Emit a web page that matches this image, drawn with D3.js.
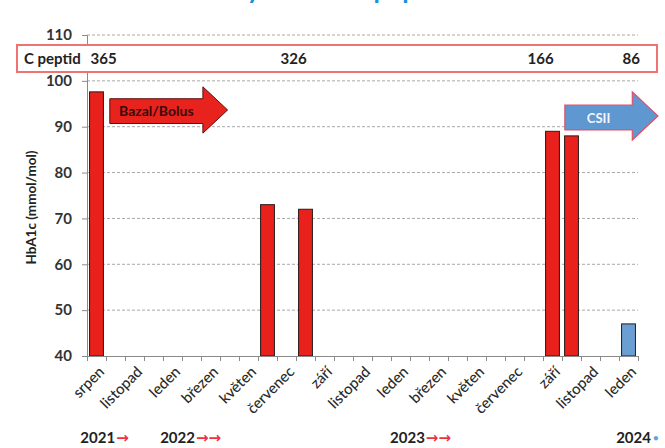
<!DOCTYPE html>
<html>
<head>
<meta charset="utf-8">
<script src="https://cdn.jsdelivr.net/npm/d3@7"></script>
<style>
  html, body { margin: 0; padding: 0; background: #ffffff; }
  svg { display: block; font-family: Lato, "Open Sans", sans-serif; }
</style>
</head>
<body>
<svg id="chart" width="665" height="448"></svg>
<script>
// Monthly visits, Aug 2021 – Jan 2024 (every second month is labelled)
const monthLabels = [
  "srpen", "", "listopad", "", "leden", "", "březen", "", "květen", "",
  "červenec", "", "září", "", "listopad", "", "leden", "", "březen", "",
  "květen", "", "červenec", "", "září", "", "listopad", "", "leden"
];
// HbA1c (mmol/mol) measured at the visit index
const hba1cIndex = [0, 9, 11, 24, 25, 28];
const hba1cValues = [97.6, 73, 72, 89, 88, 47];
// therapy: Bazal/Bolus vs. insulin pump (CSII)
const hba1cTherapy = ["bb", "bb", "bb", "bb", "bb", "csii"];
// C-peptide measurements shown in the strip above the plot
const cPeptidIndex = [0, 10, 23, 28];
const cPeptidValues = [365, 326, 166, 86];
const yTicks = [40, 50, 60, 70, 80, 90, 100, 110];
const years = ["2021", "2022", "2023", "2024"];
const yearMarks = ["→", "→→", "→→", "•"];
const yearPos = [-0.35, 3.85, 15.95, 27.85];

(function () {
const svg = d3.select("#chart");
const plotLeft = 87, plotRight = 638, plotTop = 35, plotBottom = 356;

const colors = { bb: "#e8211c", csii: "#6b9fd3" };

const idx = d3.range(monthLabels.length);
const x = d3.scaleBand().domain(idx).range([plotLeft, plotRight]).paddingInner(0.27).paddingOuter(0.135);
const xb = d3.scaleLinear().domain([0, monthLabels.length]).range([plotLeft, plotRight]);
const y = d3.scaleLinear().domain([40, 110]).range([plotBottom, plotTop]);

// title, mostly above the top edge
svg.append("text")
  .attr("x", 345).attr("y", -1)
  .attr("text-anchor", "middle")
  .attr("font-size", 26).attr("font-weight", 700)
  .attr("fill", "#1b8fd6")
  .text("Dynamika C peptidu");

// dashed gridlines
svg.append("g")
  .selectAll("line")
  .data(yTicks.filter(t => t > 40))
  .join("line")
  .attr("x1", plotLeft).attr("x2", plotRight)
  .attr("y1", d => y(d)).attr("y2", d => y(d))
  .attr("stroke", "#a8a8a8").attr("stroke-width", 1)
  .attr("stroke-dasharray", "3,2");

// y axis
const yAxis = svg.append("g")
  .attr("transform", `translate(${plotLeft},0)`)
  .call(d3.axisLeft(y).tickValues(yTicks).tickSize(5).tickPadding(10));
yAxis.select(".domain").attr("stroke", "#8a8a8a");
yAxis.selectAll(".tick line").attr("stroke", "#8a8a8a");
yAxis.selectAll(".tick text")
  .attr("font-family", "Lato, sans-serif")
  .attr("font-size", 15).attr("font-weight", 700).attr("fill", "#333");

// y axis title
svg.append("text")
  .attr("transform", `translate(36,${(plotTop + plotBottom) / 2 + 12}) rotate(-90)`)
  .attr("text-anchor", "middle")
  .attr("font-size", 13.5).attr("font-weight", 700).attr("fill", "#222")
  .text("HbA1c (mmol/mol)");

// bars
svg.append("g")
  .selectAll("rect")
  .data(hba1cValues.map((v, i) => ({ i: hba1cIndex[i], v, t: hba1cTherapy[i] })))
  .join("rect")
  .attr("x", d => x(d.i))
  .attr("width", x.bandwidth())
  .attr("y", d => y(d.v))
  .attr("height", d => y(40) - y(d.v))
  .attr("fill", d => colors[d.t])
  .attr("stroke", "#2a1a1a").attr("stroke-width", 1);

// x axis: tick marks between categories
const xTickAxis = svg.append("g")
  .attr("transform", `translate(0,${plotBottom})`)
  .call(d3.axisBottom(xb).tickValues(d3.range(monthLabels.length + 1)).tickSize(5).tickFormat(""));
xTickAxis.select(".domain").attr("stroke", "#8a8a8a");
xTickAxis.selectAll(".tick line").attr("stroke", "#8a8a8a");

// x axis: rotated month labels
const xLab = svg.append("g")
  .attr("transform", `translate(0,${plotBottom})`)
  .call(d3.axisBottom(x).tickValues(idx.filter(i => monthLabels[i] !== "")).tickSize(0).tickFormat(i => monthLabels[i]));
xLab.select(".domain").remove();
xLab.selectAll(".tick text")
  .attr("font-family", "Lato, sans-serif")
  .attr("font-size", 15).attr("font-weight", 500).attr("fill", "#2a2a2a")
  .attr("text-anchor", "end")
  .attr("x", 0).attr("y", 0).attr("dy", "0.35em")
  .attr("transform", "translate(5,13) rotate(-45)");

// C peptid strip
svg.append("rect")
  .attr("x", 17).attr("y", 45).attr("width", 640).attr("height", 27)
  .attr("fill", "#ffffff").attr("stroke", "#ef7373").attr("stroke-width", 2);
svg.append("text")
  .attr("x", 24).attr("y", 64)
  .attr("font-size", 15).attr("font-weight", 700).attr("fill", "#222")
  .text("C peptid");
svg.append("g")
  .selectAll("text")
  .data(cPeptidValues.map((v, i) => ({ v, i: cPeptidIndex[i] })))
  .join("text")
  .attr("x", d => x(d.i) + 1)
  .attr("y", 64)
  .attr("font-size", 15).attr("font-weight", 700).attr("fill", "#222")
  .text(d => d.v);

// block arrow helper
function blockArrow(x0, x1, xh, yb0, yb1, yh0, yh1) {
  const ym = (yh0 + yh1) / 2;
  return `M${x0},${yb0}L${xh},${yb0}L${xh},${yh0}L${x1},${ym}L${xh},${yh1}L${xh},${yb1}L${x0},${yb1}Z`;
}

// Bazal/Bolus arrow
svg.append("path")
  .attr("d", blockArrow(xb(1.2), xb(7.4), xb(6.1), y(96.1), y(90.7), y(98.7), y(88.6)))
  .attr("fill", "#e8221c").attr("stroke", "#5a1010").attr("stroke-width", 1);
svg.append("text")
  .attr("x", (xb(1.2) + xb(6.1)) / 2).attr("y", (y(96.1) + y(90.7)) / 2 + 5)
  .attr("text-anchor", "middle")
  .attr("font-size", 14).attr("font-weight", 700).attr("fill", "#3a0a0a")
  .text("Bazal/Bolus");

// CSII arrow
svg.append("path")
  .attr("d", blockArrow(xb(25.15), xb(30.05), xb(28.7), y(94.7), y(89.3), y(97.6), y(87.1)))
  .attr("fill", "#5f98d0").attr("stroke", "#e0506a").attr("stroke-width", 1.2);
svg.append("text")
  .attr("x", (xb(25.15) + xb(28.7)) / 2).attr("y", (y(94.7) + y(89.3)) / 2 + 5)
  .attr("text-anchor", "middle")
  .attr("font-size", 13).attr("font-weight", 700).attr("fill", "#f4f6fb")
  .text("CSII");

// year row
const yr = svg.append("g")
  .selectAll("text")
  .data(years.map((t, i) => ({ t, m: yearMarks[i], p: yearPos[i] })))
  .join("text")
  .attr("x", d => xb(d.p))
  .attr("y", 443)
  .attr("font-size", 15).attr("font-weight", 700).attr("fill", "#222");
yr.append("tspan").text(d => d.t);
yr.append("tspan")
  .attr("font-family", "DejaVu Sans, sans-serif")
  .attr("font-size", d => d.m === "•" ? 12 : 15)
  .attr("fill", d => d.m === "•" ? "#6b9fd3" : "#ee3340")
  .attr("dx", 1)
  .text(d => d.m);
})();
</script>
</body>
</html>
